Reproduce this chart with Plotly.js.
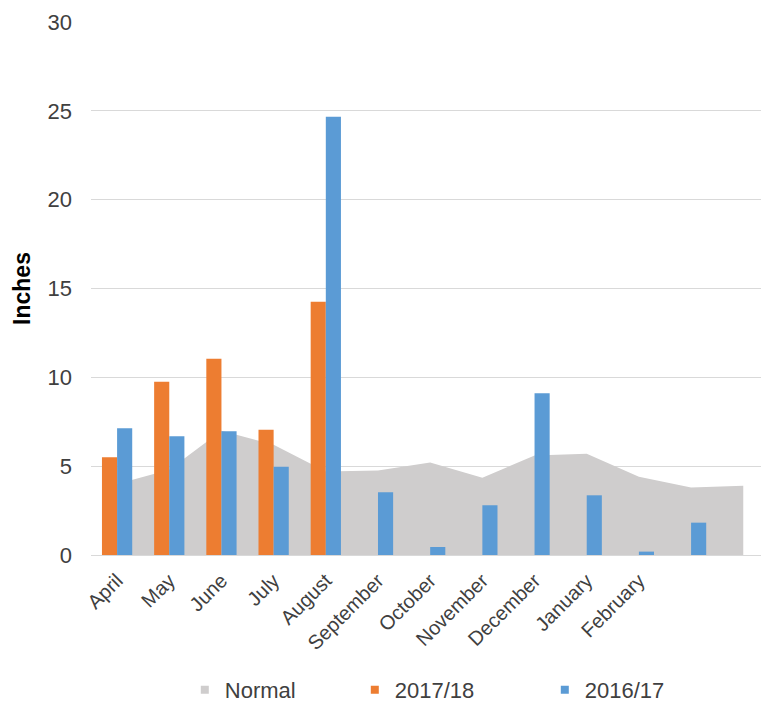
<!DOCTYPE html>
<html><head><meta charset="utf-8">
<script src="https://cdn.plot.ly/plotly-3.0.1.min.js"></script>
<style>html,body{margin:0;padding:0;background:#fff;overflow:hidden}</style>
</head><body><div id="chart" style="width:761px;height:715px"></div>
<script>
// Data
const months = ['April','May','June','July','August','September','October','November','December','January','February','March'];
const tickLabels = ['April','May','June','July','August','September','October','November','December','January','February'];
const normal = [4.0, 4.8, 7.0, 6.2, 4.7, 4.75, 5.2, 4.35, 5.6, 5.7, 4.4, 3.8, 3.9];
const rain2017_18 = [5.5, 9.75, 11.05, 7.05, 14.25, null, null, null, null, null, null, null];
const rain2016_17 = [7.13, 6.68, 6.96, 4.97, 24.67, 3.53, 0.45, 2.8, 9.1, 3.36, 0.19, 1.82];
const seriesNames = ['Normal', '2017/18', '2016/17'];
const seriesColors = ['#cfcdcd', '#ed7d31', '#5b9bd5'];

const FONT = 'Liberation Sans, Arial, sans-serif';
const idxBars = months.map((_, i) => i);
const idxNormal = normal.map((_, i) => i);
const idxTicks = tickLabels.map((_, i) => i);

const traces = [
  {type:'scatter', x: idxNormal, y: normal, mode:'lines', line:{width:0, color:seriesColors[0]},
   fill:'tozeroy', fillcolor:seriesColors[0], showlegend:false, hoverinfo:'skip', xaxis:'x', yaxis:'y'},
  {type:'bar', x: idxBars, y: rain2017_18, name: seriesNames[1], marker:{color:seriesColors[1]},
   showlegend:false, xaxis:'x', yaxis:'y2'},
  {type:'bar', x: idxBars, y: rain2016_17, name: seriesNames[2], marker:{color:seriesColors[2]},
   showlegend:false, xaxis:'x', yaxis:'y2'}
];
const legendWidths = [125, 145, 80];
seriesNames.forEach((n, i) => {
  traces.push({type:'scatter', x:[null], y:[null], mode:'markers', name:n,
    marker:{symbol:'square', size:8, color:seriesColors[i]}, legendwidth: legendWidths[i],
    xaxis:'x', yaxis:'y', hoverinfo:'skip'});
});

const layout = {
  width: 761, height: 715,
  margin: {l: 91, r: 0, t: 22, b: 160},
  paper_bgcolor: '#fff', plot_bgcolor: '#fff',
  font: {family: FONT, color: '#404040'},
  barmode: 'group', bargap: 0.42, bargroupgap: 0,
  showlegend: true,
  legend: {orientation: 'h', x: 0.14, xanchor: 'left', y: -0.253, yanchor: 'middle',
           font: {size: 22, color: '#404040', family: FONT}, traceorder: 'normal'},
  xaxis: {range: [-0.5, 12.34], tickmode: 'array', tickvals: idxTicks, ticktext: tickLabels,
          tickangle: -45, showgrid: false, zeroline: false, showline: true, linecolor: '#d9d9d9', linewidth: 1,
          ticks: 'outside', ticklen: 5, tickcolor: 'rgba(0,0,0,0)',
          tickfont: {size: 20, color: '#404040', family: FONT}, fixedrange: true},
  yaxis: {range: [0, 30], dtick: 5, tick0: 0, showgrid: true, gridcolor: '#d9d9d9', gridwidth: 1,
          zeroline: false, showline: false, ticks: '', ticklabelstandoff: 18,
          tickfont: {size: 22, color: '#404040', family: FONT},
          title: {text: '<b>Inches</b>', font: {size: 23, color: '#000', family: FONT}, standoff: 10},
          fixedrange: true},
  yaxis2: {range: [0, 30], overlaying: 'y', visible: false, showgrid: false, zeroline: false, fixedrange: true}
};
Plotly.newPlot('chart', traces, layout, {displayModeBar: false, staticPlot: true});
</script></body></html>
